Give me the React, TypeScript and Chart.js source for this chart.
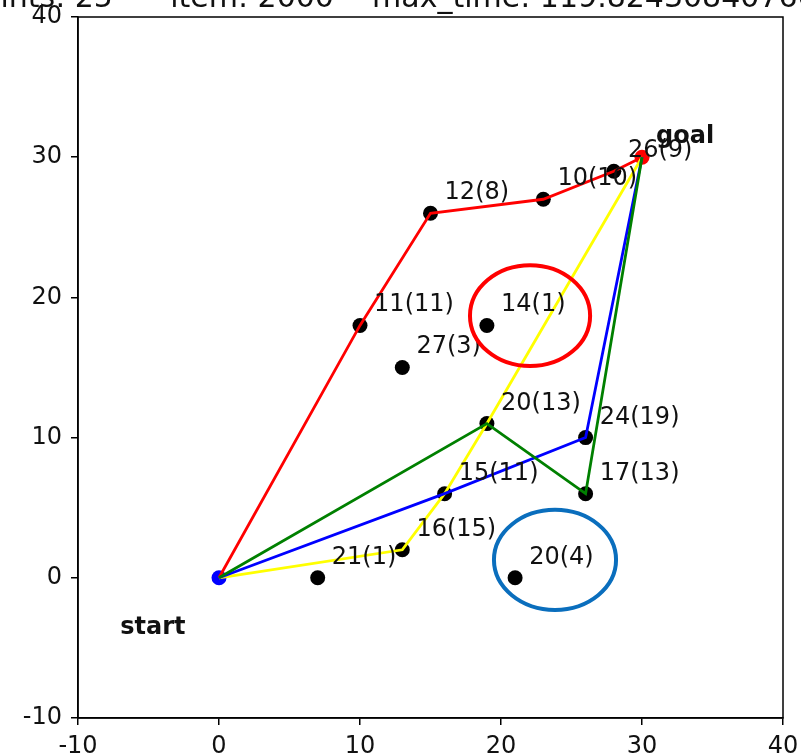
import { useEffect, useRef } from "react";
import { Chart, registerables } from "chart.js";

Chart.register(...registerables);

// ---- data ----
const nodeX = [7, 13, 16, 19, 26, 26, 21, 13, 10, 19, 15, 23, 28];
const nodeY = [0, 2, 6, 11, 10, 6, 0, 15, 18, 18, 26, 27, 29];
const nodeLabels = ["21(1)", "16(15)", "15(11)", "20(13)", "24(19)", "17(13)", "20(4)", "27(3)", "11(11)", "14(1)", "12(8)", "10(10)", "26(9)"];

const startX = 0;
const startY = 0;
const goalX = 30;
const goalY = 30;

const redPathX = [0, 10, 15, 23, 28, 30];
const redPathY = [0, 18, 26, 27, 29, 30];
const yellowPathX = [0, 13, 16, 19, 30];
const yellowPathY = [0, 2, 6, 11, 30];
const bluePathX = [0, 16, 26, 30];
const bluePathY = [0, 6, 10, 30];
const greenPathX = [0, 19, 26, 30];
const greenPathY = [0, 11, 6, 30];

const ellipseCX = [22.06, 23.83];
const ellipseCY = [18.7, 1.28];
const ellipseRX = [4.26, 4.33];
const ellipseRY = [3.6, 3.57];
const ellipseColors = ["#ff0000", "#0a6ebd"];

const axisTicks = [-10, 0, 10, 20, 30, 40];
const titleText = "points: 25      item: 2000    max_time: 119.82430840766431";

const pts = (xs: number[], ys: number[]) => xs.map((x, i) => ({ x, y: ys[i] }));

const FONT = "'DejaVu Sans', sans-serif";

export default function App() {
  const ref = useRef<HTMLCanvasElement | null>(null);

  useEffect(() => {
    if (!ref.current) return;

    const overlay = {
      id: "overlay",
      afterDatasetsDraw(chart: any) {
        const ctx = chart.ctx;
        const xs = chart.scales.x;
        const ys = chart.scales.y;
        const a = chart.chartArea;
        ctx.save();
        // frame
        ctx.strokeStyle = "#000";
        ctx.lineWidth = 1.5;
        ctx.strokeRect(a.left, a.top, a.right - a.left, a.bottom - a.top);
        // node labels
        ctx.fillStyle = "#111";
        ctx.font = `24px ${FONT}`;
        ctx.textAlign = "left";
        ctx.textBaseline = "alphabetic";
        nodeLabels.forEach((t, i) => {
          ctx.fillText(t, xs.getPixelForValue(nodeX[i] + 1), ys.getPixelForValue(nodeY[i] + 1));
        });
        ctx.font = `bold 24px ${FONT}`;
        ctx.fillText("goal", xs.getPixelForValue(goalX + 1), ys.getPixelForValue(goalY + 1));
        ctx.fillText("start", xs.getPixelForValue(startX - 7), ys.getPixelForValue(startY - 4));
        // ellipses
        ctx.lineWidth = 4;
        ellipseCX.forEach((cx, i) => {
          const px = xs.getPixelForValue(cx);
          const py = ys.getPixelForValue(ellipseCY[i]);
          const rx = Math.abs(xs.getPixelForValue(cx + ellipseRX[i]) - px);
          const ry = Math.abs(ys.getPixelForValue(ellipseCY[i] + ellipseRY[i]) - py);
          ctx.strokeStyle = ellipseColors[i];
          ctx.beginPath();
          ctx.ellipse(px, py, rx, ry, 0, 0, Math.PI * 2);
          ctx.stroke();
        });
        // clipped title (only its lower part lies inside the canvas)
        ctx.fillStyle = "#111";
        ctx.font = `30px ${FONT}`;
        ctx.textAlign = "left";
        ctx.textBaseline = "alphabetic";
        ctx.fillText(titleText, -37, 6.5);
        ctx.restore();
      },
    };

    const lineDs = (label: string, color: string, xs: number[], ys: number[]) => ({
      type: "line" as const,
      label,
      data: pts(xs, ys),
      borderColor: color,
      backgroundColor: color,
      borderWidth: 2.8,
      pointRadius: 0,
      showLine: true,
      fill: false,
      tension: 0,
    });

    const chart = new Chart(ref.current, {
      type: "scatter",
      data: {
        datasets: [
          lineDs("green", "#008000", greenPathX, greenPathY),
          lineDs("blue", "#0000ff", bluePathX, bluePathY),
          lineDs("yellow", "#ffff00", yellowPathX, yellowPathY),
          lineDs("red", "#ff0000", redPathX, redPathY),
          {
            label: "start",
            data: [{ x: startX, y: startY }],
            backgroundColor: "#0000ff",
            borderColor: "#0000ff",
            pointRadius: 7.5,
            borderWidth: 0,
          },
          {
            label: "goal",
            data: [{ x: goalX, y: goalY }],
            backgroundColor: "#ff0000",
            borderColor: "#ff0000",
            pointRadius: 7.5,
            borderWidth: 0,
          },
          {
            label: "nodes",
            data: pts(nodeX, nodeY),
            backgroundColor: "#000",
            borderColor: "#000",
            pointRadius: 7.5,
            borderWidth: 0,
          },
        ],
      } as any,
      options: {
        animation: false,
        responsive: false,
        events: [],
        layout: { padding: { left: 0, top: 17, right: 18, bottom: 0 } },
        plugins: { legend: { display: false }, tooltip: { enabled: false }, title: { display: false } },
        scales: {
          x: {
            type: "linear",
            min: -10,
            max: 40,
            afterFit: (s: any) => { s.height = 38; s.paddingLeft = 0; s.paddingRight = 0; },
            afterBuildTicks: (s: any) => { s.ticks = axisTicks.map((v) => ({ value: v })); },
            ticks: { color: "#111", font: { family: FONT, size: 24 }, padding: 7, maxRotation: 0, autoSkip: false },
            grid: { drawOnChartArea: false, drawTicks: true, tickLength: 7, color: "#000", lineWidth: 1.5 },
            border: { display: true, color: "#000", width: 1.5 },
          },
          y: {
            type: "linear",
            min: -10,
            max: 40,
            afterFit: (s: any) => { s.width = 78; s.paddingTop = 0; s.paddingBottom = 0; },
            afterBuildTicks: (s: any) => { s.ticks = axisTicks.map((v) => ({ value: v })); },
            ticks: { color: "#111", font: { family: FONT, size: 24 }, padding: 9, autoSkip: false },
            grid: { drawOnChartArea: false, drawTicks: true, tickLength: 7, color: "#000", lineWidth: 1.5 },
            border: { display: true, color: "#000", width: 1.5 },
          },
        },
      } as any,
      plugins: [overlay],
    });

    return () => chart.destroy();
  }, []);

  return (
    <div style={{ position: "absolute", left: 0, top: 0, width: 801, height: 756, background: "#fff" }}>
      <canvas ref={ref} width={801} height={756} style={{ display: "block", width: 801, height: 756 }} />
    </div>
  );
}
